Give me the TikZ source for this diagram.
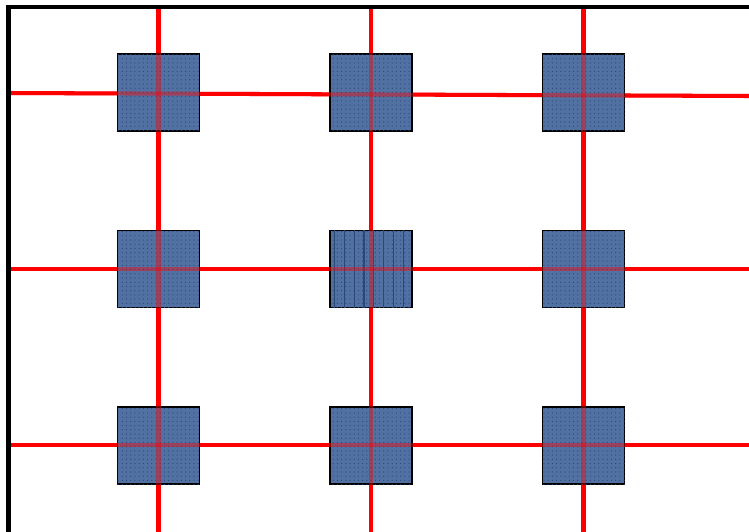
\documentclass[tikz,border=0pt]{standalone}
\usetikzlibrary{patterns.meta}
\definecolor{gridred}{HTML}{FF0000}
\definecolor{padblue}{HTML}{5271A3}
\definecolor{padink}{HTML}{2A4878}
\tikzset{grid/.style={line width=2.3pt,draw=gridred},
  frame/.style={line width=2.3pt,draw=black,line join=miter},
  pad/.style={draw=black,line width=1.1pt,fill=padblue,minimum width=1.64cm,
    minimum height=1.54cm,inner sep=0pt,
    postaction={pattern={Dots[distance=2.4pt,radius=.35pt]},pattern color=padink}},
  dotted pad/.style={},
  striped pad/.style={postaction={pattern={Lines[angle=90,distance=5.6pt,line width=.65pt]},
    pattern color=padink}}}

\begin{document}
\begin{tikzpicture}[x=0.02cm,y=-0.02cm]
\useasboundingbox (0,0) rectangle (749,531);
% frame corner
\coordinate (fb) at (8.5,532);
\coordinate (fc) at (8.5,7);
\coordinate (fr) at (750,7);
% ends of the red grid
\foreach \c/\x in {1/158.5,2/371,3/583.5}{
 \coordinate (vt\c) at (\x,7);
 \coordinate (vb\c) at (\x,532);
}
\foreach \r/\y/\yy in {1/93/96,2/269/269,3/445/445}{
 \coordinate (hl\r) at (8.5,\y);
 \coordinate (hr\r) at (750,\yy);
}
\foreach \i in {1,2,3}{
 \draw[grid] (vt\i)--(vb\i);
 \draw[grid] (hl\i)--(hr\i);
}
% pads
\foreach \n/\x/\y/\k in {11/158.5/92.5/dotted,12/371/92.5/dotted,13/583.5/92.5/dotted,
  21/158.5/269/dotted,22/371/269/striped,23/583.5/269/dotted,
  31/158.5/445.5/dotted,32/371/445.5/dotted,33/583.5/445.5/dotted}{
 \node[pad,\k\space pad] (p\n) at (\x,\y) {};
}
% grid seen through the pads
\foreach \i in {1,2,3}{
 \draw[grid,draw opacity=.42] (vt\i)--(vb\i);
 \draw[grid,draw opacity=.42] (hl\i)--(hr\i);
}
\draw[frame] (fb)--(fc)--(fr);
\end{tikzpicture}
\end{document}
